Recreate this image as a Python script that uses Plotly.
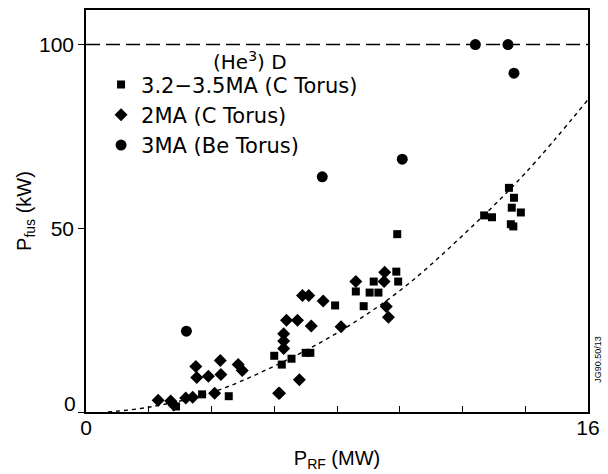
import plotly.graph_objects as go

# 3.2-3.5 MA (C Torus) - squares
sq_x = [13.48, 13.64, 13.57, 13.86, 13.54, 13.62, 12.69, 12.94, 9.92, 9.89, 9.95, 9.17,
        8.60, 9.04, 9.32, 8.85, 7.94, 6.00, 6.24, 6.55, 7.00, 7.15, 2.87, 3.70, 4.55]
sq_y = [61.0, 58.3, 55.6, 54.3, 51.1, 50.5, 53.5, 53.0, 48.4, 38.2, 35.5, 35.5,
        32.8, 32.5, 32.5, 28.8, 29.0, 15.3, 12.9, 14.5, 16.1, 16.1, 1.5, 4.8, 4.3]

# 2 MA (C Torus) - diamonds
di_x = [2.30, 2.70, 2.80, 3.18, 3.40, 4.10, 6.14, 6.80, 3.50, 3.53, 3.90, 4.28, 4.30,
        4.85, 4.98, 6.90, 7.10, 7.56, 6.39, 6.74, 7.18, 6.30, 6.30, 6.30, 6.17,
        8.13, 8.60, 9.52, 9.50, 9.57, 9.64]
di_y = [3.2, 3.0, 1.9, 3.8, 4.0, 5.1, 5.1, 8.8, 12.4, 9.4, 9.7, 14.0, 10.2,
        12.9, 11.3, 31.7, 31.7, 30.2, 25.0, 25.0, 23.4, 21.3, 19.3, 17.3, 5.1,
        23.2, 35.5, 38.0, 35.5, 28.7, 25.8]

# 3 MA (Be Torus) - circles
ci_x = [12.41, 13.45, 13.64, 10.08, 7.53, 3.20]
ci_y = [100.0, 100.0, 92.2, 68.8, 64.0, 22.0]

# fitted dashed curve
fit_x = [0.7, 2, 4, 6, 8, 10, 12, 14, 16]
fit_y = [0.0, 1.3, 5.3, 12.5, 21.5, 33.0, 48.0, 65.0, 85.0]

# limit line
lim_x = [0, 16]
lim_y = [100, 100]

x_ticks = [0, 2, 4, 6, 8, 10, 12, 14, 16]
x_ticktext = ["0", "", "", "", "", "", "", "", "16"]
y_ticks = [0, 50, 100]
y_ticktext = ["", "50", "100"]

FONT = "Liberation Sans"
LEG_FONT = "DejaVu Sans"
fig = go.Figure()

fig.add_trace(go.Scatter(x=lim_x, y=lim_y, mode="lines", showlegend=False,
                         line=dict(color="black", width=1.6, dash="14px,6px")))
fig.add_trace(go.Scatter(x=fit_x, y=fit_y, mode="lines", showlegend=False,
                         line=dict(color="black", width=1.4, dash="4px,4px", shape="spline")))
fig.add_trace(go.Scatter(x=sq_x, y=sq_y, mode="markers", name="3.2\u22123.5MA (C Torus)",
                         legendgroup="a",
                         marker=dict(symbol="square", size=8, color="black")))
fig.add_trace(go.Scatter(x=di_x, y=di_y, mode="markers", name="2MA (C Torus)",
                         legendgroup="b",
                         marker=dict(symbol="diamond", size=10, color="black")))
fig.add_trace(go.Scatter(x=ci_x, y=ci_y, mode="markers", name="3MA (Be Torus)",
                         legendgroup="c",
                         marker=dict(symbol="circle", size=11, color="black")))

fig.update_layout(
    width=608, height=474,
    margin=dict(l=86, r=14, t=8, b=59),
    paper_bgcolor="white", plot_bgcolor="white",
    font=dict(family=FONT, size=20, color="black"),
    showlegend=True,
    legend=dict(x=0.03, y=0.865, xanchor="left", yanchor="top",
                bgcolor="rgba(0,0,0,0)", font=dict(size=21, family=LEG_FONT),
                tracegroupgap=0),
    xaxis=dict(range=[0, 16], showgrid=False, zeroline=False, showline=True,
               linecolor="black", linewidth=1.6, mirror=True,
               ticks="inside", ticklen=6, tickwidth=1.4, tickcolor="black",
               tickvals=x_ticks, ticktext=x_ticktext, tickfont=dict(size=21),
               ticklabelstandoff=-4,
               title=dict(text="P<sub>RF</sub> (MW)", font=dict(size=20), standoff=13)),
    yaxis=dict(range=[0, 109.4], showgrid=False, zeroline=False, showline=True,
               linecolor="black", linewidth=1.6, mirror=True,
               ticks="outside", ticklen=6, tickwidth=1.4, tickcolor="black",
               tickvals=y_ticks, ticktext=y_ticktext, tickfont=dict(size=21),
               title=dict(text="P<sub>fus</sub> (kW)", font=dict(size=20), standoff=2)),
)

fig.add_annotation(text="(He<sup>3</sup>) D", xref="paper", yref="paper",
                   x=0.327, y=0.872, xanchor="center", yanchor="middle",
                   showarrow=False, font=dict(size=20, family=LEG_FONT))
fig.add_annotation(text="0", xref="paper", yref="y", x=0, y=0, xanchor="right",
                   yanchor="middle", xshift=-8, yshift=9, showarrow=False,
                   font=dict(size=21))
fig.add_annotation(text="JG90.50/13", xref="paper", yref="paper", x=1.0, y=0.13,
                   xanchor="left", yanchor="middle", xshift=3, textangle=-90,
                   showarrow=False, font=dict(size=9))

fig.write_html("out.html")
